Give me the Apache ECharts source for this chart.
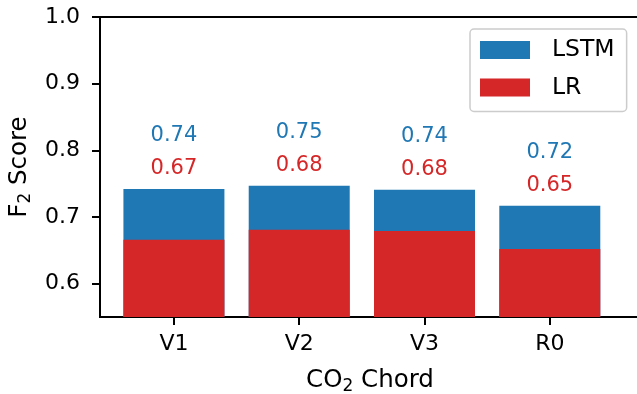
<!DOCTYPE html>
<html>
<head>
<meta charset="utf-8">
<script src="https://cdn.jsdelivr.net/npm/echarts@6/dist/echarts.min.js"></script>
<style>
  html, body { margin: 0; padding: 0; background: #fff; }
  #chart { width: 637px; height: 394px; }
</style>
</head>
<body>
<div id="chart"></div>
<script>
// data
const chords = ['V1', 'V2', 'V3', 'R0']
const lstm = [0.742, 0.747, 0.741, 0.717]
const lr = [0.666, 0.681, 0.679, 0.652]
const lstmText = ['0.74', '0.75', '0.74', '0.72']
const lrText = ['0.67', '0.68', '0.68', '0.65']
const yTicks = [0.6, 0.7, 0.8, 0.9, 1.0]

const blue = '#1f77b4'
const red = '#d62728'
const font = 'DejaVu Sans'

const myChart = echarts.init(document.querySelector('#chart'))
const option = {
    animation: false,
    textStyle: { fontFamily: font },
    grid: {
        left: 100,
        top: 17,
        bottom: 77,
        width: 540,
        outerBoundsMode: 'none',
        containLabel: false,
        show: true,
        borderColor: '#000',
        borderWidth: 2,
    },
    legend: {
        orient: 'vertical',
        left: 470,
        top: 29,
        icon: 'rect',
        itemWidth: 50,
        itemHeight: 18,
        itemGap: 13.5,
        padding: [9, 12, 12, 10],
        borderColor: '#ccc',
        borderWidth: 1.5,
        borderRadius: 4,
        textStyle: {
            fontFamily: font,
            fontSize: 23.5,
            color: '#000',
            padding: [0, 0, 0, 17],
        },
        data: ['LSTM', 'LR'],
    },
    xAxis: {
        type: 'value',
        min: -0.59,
        max: 3.72,
        splitLine: { show: false },
        axisLine: { show: true, onZero: false, lineStyle: { color: '#000', width: 2 } },
        axisTick: {
            show: true,
            length: 8,
            customValues: [0, 1, 2, 3],
            lineStyle: { color: '#000', width: 2 },
        },
        axisLabel: {
            customValues: [0, 1, 2, 3],
            formatter: v => chords[Math.round(v)],
            fontFamily: font,
            fontSize: 22,
            color: '#000',
            margin: 16,
        },
        name: '{n|CO}{s|2}{n| Chord}',
        nameLocation: 'middle',
        nameGap: 49,
        nameTextStyle: {
            rich: {
                n: { fontFamily: font, fontSize: 24.5, color: '#000' },
                s: { fontFamily: font, fontSize: 17, color: '#000', padding: [12, 0, 0, 0] },
            },
        },
    },
    yAxis: {
        type: 'value',
        min: 0.55,
        max: 1.0,
        splitLine: { show: false },
        axisLine: { show: true, onZero: false, lineStyle: { color: '#000', width: 2 } },
        axisTick: {
            show: true,
            length: 8,
            customValues: yTicks,
            lineStyle: { color: '#000', width: 2 },
        },
        axisLabel: {
            customValues: yTicks,
            formatter: v => v.toFixed(1),
            fontFamily: font,
            fontSize: 22,
            color: '#000',
            margin: 20,
        },
        name: '{n|F}{s|2}{n| Score}',
        nameLocation: 'middle',
        nameGap: 65,
        nameTextStyle: {
            rich: {
                n: { fontFamily: font, fontSize: 24.5, color: '#000' },
                s: { fontFamily: font, fontSize: 17, color: '#000', padding: [12, 0, 0, 0] },
            },
        },
    },
    series: [
        {
            name: 'LSTM',
            type: 'bar',
            barWidth: 101,
            barGap: '-100%',
            itemStyle: { color: blue },
            data: lstm.map((v, i) => [i, v]),
            label: {
                show: true,
                position: 'top',
                distance: 4,
                formatter: p => `{a|${lstmText[p.dataIndex]}}\n{b|${lrText[p.dataIndex]}}`,
                rich: {
                    a: { fontFamily: font, fontSize: 21, color: blue, lineHeight: 33 },
                    b: { fontFamily: font, fontSize: 21, color: red, lineHeight: 33 },
                },
            },
        },
        {
            name: 'LR',
            type: 'bar',
            barWidth: 101,
            barGap: '-100%',
            itemStyle: { color: red },
            data: lr.map((v, i) => [i, v]),
        },
    ],
}
myChart.setOption(option)
</script>
</body>
</html>
